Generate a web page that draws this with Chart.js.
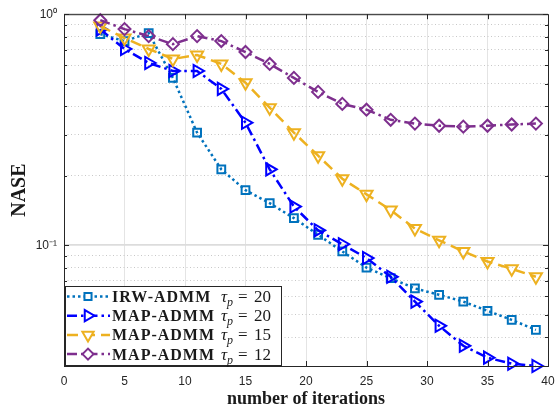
<!DOCTYPE html>
<html lang="en">
<head>
    <meta charset="UTF-8">
    <title>NASE vs iterations</title>
    <style>
        body { margin: 0; background: white; }
        .wrap { width: 557px; height: 414px; position: relative; }
    </style>
    <script src="https://cdn.jsdelivr.net/npm/chart.js"></script>
</head>
<body>
    <div class="wrap"><canvas id="naseChart"></canvas></div>

    <script>
        // iteration counts where the error was recorded
        const iterations = [3, 5, 7, 9, 11, 13, 15, 17, 19, 21, 23, 25, 27, 29, 31, 33, 35, 37, 39];

        // NASE per algorithm
        const irwAdmm20 = [0.82, 0.765, 0.828, 0.53, 0.307, 0.213, 0.173, 0.152, 0.131, 0.111, 0.094, 0.080, 0.072, 0.065, 0.061, 0.057, 0.052, 0.0475, 0.043];
        const mapAdmm20 = [0.86, 0.707, 0.615, 0.568, 0.568, 0.475, 0.339, 0.213, 0.147, 0.116, 0.101, 0.088, 0.073, 0.057, 0.0448, 0.0367, 0.0326, 0.0307, 0.0300];
        const mapAdmm15 = [0.888, 0.788, 0.707, 0.64, 0.666, 0.609, 0.505, 0.394, 0.307, 0.244, 0.194, 0.166, 0.142, 0.118, 0.105, 0.094, 0.085, 0.079, 0.073];
        const mapAdmm12 = [0.942, 0.862, 0.804, 0.742, 0.804, 0.765, 0.686, 0.609, 0.53, 0.461, 0.409, 0.386, 0.349, 0.336, 0.329, 0.326, 0.329, 0.333, 0.336];

        // legend names and tau_p values
        const seriesNames = ['IRW-ADMM', 'MAP-ADMM', 'MAP-ADMM', 'MAP-ADMM'];
        const tauValues = [20, 20, 15, 12];

        // log axis ticks: decades get labels, the rest are minor
        const yTickValues = [0.03, 0.04, 0.05, 0.06, 0.07, 0.08, 0.09, 0.1, 0.2, 0.3, 0.4, 0.5, 0.6, 0.7, 0.8, 0.9, 1];
        const yTickLabels = { 0.1: '10\u207B\u00B9', 1: '10\u2070' };

        const isDecade = v => Math.abs(Math.log10(v) - Math.round(Math.log10(v))) < 1e-9;
        const axisColor = '#262626';

        const styles = [
            { color: '#0072BD', dash: [2.5, 3], pointStyle: 'rect', rotation: 0, radius: 5.5 },
            { color: '#0000FF', dash: [10, 4, 2.5, 4], pointStyle: 'triangle', rotation: 90, radius: 7 },
            { color: '#EDB120', dash: [11, 6], pointStyle: 'triangle', rotation: 180, radius: 7 },
            { color: '#7E2F8E', dash: [10, 4, 2.5, 4], pointStyle: 'rectRot', rotation: 0, radius: 6 }
        ];
        const series = [irwAdmm20, mapAdmm20, mapAdmm15, mapAdmm12];

        const datasets = series.map((vals, i) => ({
            label: seriesNames[i] + ' \u03C4p = ' + tauValues[i],
            data: vals.map((v, j) => ({ x: iterations[j], y: v })),
            borderColor: styles[i].color,
            borderWidth: 2.5,
            borderDash: styles[i].dash,
            pointStyle: styles[i].pointStyle,
            rotation: styles[i].rotation,
            pointRadius: styles[i].radius,
            pointBorderWidth: 2,
            pointBorderColor: styles[i].color,
            pointBackgroundColor: 'rgba(0,0,0,0)',
            fill: false,
            tension: 0,
            clip: false,
            order: 4 - i
        }));

        // box, inward tick marks and the legend
        const framePlugin = {
            id: 'frame',
            afterDraw(chart) {
                const { ctx, chartArea: a, scales: { x, y } } = chart;
                ctx.save();
                ctx.strokeStyle = axisColor;
                ctx.lineWidth = 1;
                ctx.setLineDash([]);
                ctx.strokeRect(a.left + 0.5, a.top + 0.5, a.right - a.left, a.bottom - a.top);

                ctx.beginPath();
                for (let v = 5; v < 40; v += 5) {
                    const px = Math.round(x.getPixelForValue(v)) + 0.5;
                    ctx.moveTo(px, a.bottom); ctx.lineTo(px, a.bottom - 5);
                    ctx.moveTo(px, a.top); ctx.lineTo(px, a.top + 5);
                }
                yTickValues.forEach(v => {
                    const py = Math.round(y.getPixelForValue(v)) + 0.5;
                    const len = isDecade(v) ? 5 : 3;
                    ctx.moveTo(a.left, py); ctx.lineTo(a.left + len, py);
                    ctx.moveTo(a.right, py); ctx.lineTo(a.right - len, py);
                });
                ctx.stroke();

                // legend
                const lx = a.left + 1, lw = 217, lh = 80;
                const ly = a.bottom - lh;
                ctx.fillStyle = 'white';
                ctx.fillRect(lx, ly, lw, lh);
                ctx.strokeStyle = axisColor;
                ctx.lineWidth = 1;
                ctx.strokeRect(lx + 0.5, ly + 0.5, lw - 1, lh - 1);

                series.forEach((_, i) => {
                    const s = styles[i];
                    const ry = ly + 10.5 + i * 19.2;
                    ctx.strokeStyle = s.color;
                    ctx.lineWidth = 2.5;
                    ctx.setLineDash(s.dash);
                    ctx.beginPath();
                    ctx.moveTo(lx + 2, ry); ctx.lineTo(lx + 45, ry);
                    ctx.stroke();
                    ctx.setLineDash([]);
                    if (Chart.helpers && Chart.helpers.drawPoint) {
                        ctx.lineWidth = 2;
                        ctx.fillStyle = 'white';
                        Chart.helpers.drawPoint(ctx, {
                            pointStyle: s.pointStyle, rotation: s.rotation,
                            radius: s.radius - 0.5, borderWidth: 2
                        }, lx + 23, ry);
                    }

                    ctx.fillStyle = '#1a1a1a';
                    ctx.textBaseline = 'alphabetic';
                    ctx.textAlign = 'left';
                    const base = ry + 5.5;
                    ctx.font = 'bold 16px "Liberation Serif"';
                    ctx.letterSpacing = '1px';
                    ctx.fillText(seriesNames[i], lx + 47, base);
                    ctx.letterSpacing = '0px';
                    let tx = lx + 156;
                    ctx.font = 'italic 17px "Liberation Serif"';
                    ctx.fillText('\u03C4', tx, base);
                    tx += ctx.measureText('\u03C4').width;
                    ctx.font = 'italic 12px "Liberation Serif"';
                    ctx.fillText('p', tx, base + 4);
                    ctx.font = '17px "Liberation Serif"';
                    ctx.fillText('=', lx + 173, base);
                    ctx.fillText(String(tauValues[i]), lx + 189, base);
                });
                ctx.restore();
            }
        };

        new Chart(document.getElementById('naseChart'), {
            type: 'line',
            data: { datasets },
            options: {
                responsive: true,
                maintainAspectRatio: false,
                animation: false,
                layout: { padding: { left: 0, right: 0, top: 12, bottom: 0 } },
                plugins: { legend: { display: false }, tooltip: { enabled: false } },
                scales: {
                    x: {
                        type: 'linear',
                        min: 0, max: 40,
                        afterFit: s => { s.height = 48; s.paddingRight = 8; },
                        ticks: { stepSize: 5, padding: 8, color: axisColor, font: { family: 'Liberation Sans', size: 12 } },
                        grid: { color: '#e4e4e4', lineWidth: 1, drawTicks: false },
                        border: { display: false },
                        title: {
                            display: true, text: 'number of iterations', color: '#1a1a1a',
                            font: { family: 'Liberation Serif', size: 18, weight: 'bold' },
                            padding: { top: 0, bottom: 4 }
                        }
                    },
                    y: {
                        type: 'logarithmic',
                        min: 0.03, max: 1,
                        afterFit: s => { s.width = 64; },
                        afterBuildTicks: s => { s.ticks = yTickValues.map(v => ({ value: v, major: isDecade(v) })); },
                        ticks: {
                            autoSkip: false, padding: 7, color: axisColor,
                            font: { family: 'Liberation Sans', size: 12 },
                            callback: v => yTickLabels[v] || ''
                        },
                        grid: {
                            drawTicks: false,
                            color: c => (c.tick && isDecade(c.tick.value)) ? '#dcdcdc' : '#c8c8c8',
                            lineWidth: c => (c.tick && isDecade(c.tick.value)) ? 1.8 : 1
                        },
                        border: {
                            display: false,
                            dash: c => (c.tick && !isDecade(c.tick.value)) ? [1, 2.5] : []
                        },
                        title: {
                            display: true, text: 'NASE', color: '#1a1a1a',
                            font: { family: 'Liberation Serif', size: 20, weight: 'bold' },
                            padding: { top: 8, bottom: 0 }
                        }
                    }
                }
            },
            plugins: [framePlugin]
        });
    </script>
</body>
</html>
